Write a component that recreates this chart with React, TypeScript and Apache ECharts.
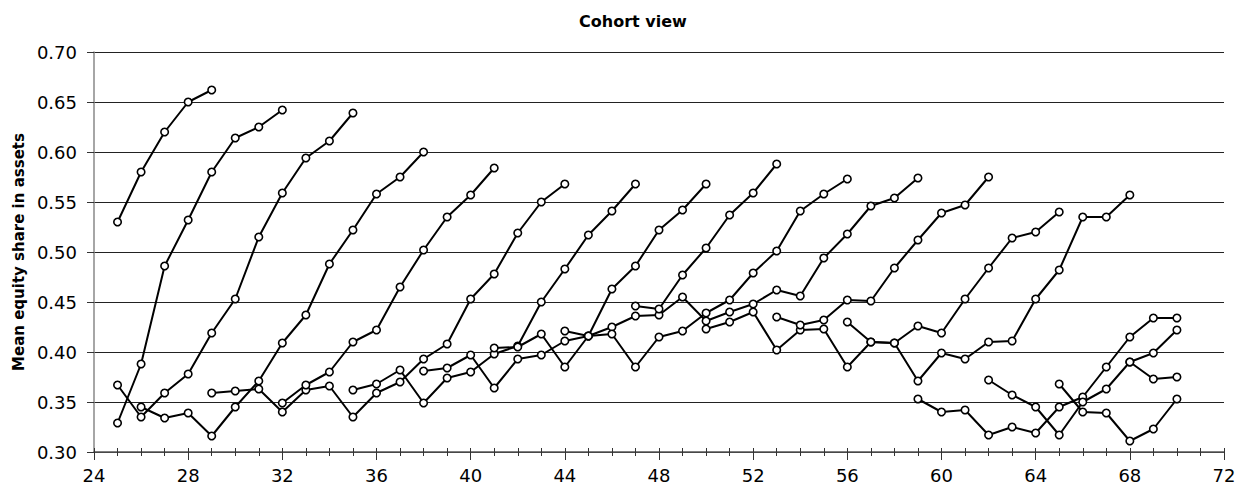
import React, { useEffect, useRef } from "react";
import * as echarts from "echarts";

// First age (x value) of each cohort line
const cohortStarts = [25, 25, 25, 26, 29, 32, 35, 38, 41, 44, 47, 50, 53, 56, 59, 62, 65, 68];

// Mean equity share by age, one array per cohort line (consecutive ages)
const cohort01 = [0.53, 0.58, 0.62, 0.65, 0.662];
const cohort02 = [0.329, 0.388, 0.486, 0.532, 0.58, 0.614, 0.625, 0.642];
const cohort03 = [0.367, 0.335, 0.359, 0.378, 0.419, 0.453, 0.515, 0.559, 0.594, 0.611, 0.639];
const cohort04 = [0.345, 0.334, 0.339, 0.316, 0.345, 0.371, 0.409, 0.437, 0.488, 0.522, 0.558, 0.575, 0.6];
const cohort05 = [0.359, 0.361, 0.363, 0.34, 0.362, 0.366, 0.335, 0.359, 0.37, 0.393, 0.408, 0.453, 0.478, 0.519, 0.55, 0.568];
const cohort06 = [0.349, 0.367, 0.38, 0.41, 0.422, 0.465, 0.502, 0.535, 0.557, 0.584];
const cohort07 = [0.362, 0.368, 0.382, 0.349, 0.374, 0.38, 0.398, 0.406, 0.45, 0.483, 0.517, 0.541, 0.568];
const cohort08 = [0.381, 0.384, 0.397, 0.364, 0.393, 0.397, 0.411, 0.416, 0.463, 0.486, 0.522, 0.542, 0.568];
const cohort09 = [0.404, 0.405, 0.418, 0.385, 0.416, 0.425, 0.436, 0.437, 0.455, 0.431, 0.44, 0.448, 0.462, 0.456, 0.494, 0.518, 0.546, 0.554, 0.574];
const cohort10 = [0.421, 0.416, 0.418, 0.385, 0.415, 0.421, 0.439, 0.452, 0.479, 0.501, 0.541, 0.558, 0.573];
const cohort11 = [0.446, 0.443, 0.477, 0.504, 0.537, 0.559, 0.588];
const cohort12 = [0.423, 0.43, 0.44, 0.402, 0.422, 0.423, 0.385, 0.41, 0.409, 0.426, 0.419, 0.453, 0.484, 0.514, 0.52, 0.54];
const cohort13 = [0.435, 0.427, 0.432, 0.452, 0.451, 0.484, 0.512, 0.539, 0.547, 0.575];
const cohort14 = [0.43, 0.41, 0.409, 0.371, 0.399, 0.393, 0.41, 0.411, 0.453, 0.482, 0.535, 0.535, 0.557];
const cohort15 = [0.353, 0.34, 0.342, 0.317, 0.325, 0.319, 0.345, 0.355, 0.385, 0.415, 0.434, 0.434];
const cohort16 = [0.372, 0.357, 0.345, 0.317, 0.35, 0.363, 0.39, 0.399, 0.422];
const cohort17 = [0.368, 0.34, 0.339, 0.311, 0.323, 0.353];
const cohort18 = [0.39, 0.373, 0.375];

const cohortValues = [
  cohort01, cohort02, cohort03, cohort04, cohort05, cohort06, cohort07, cohort08, cohort09,
  cohort10, cohort11, cohort12, cohort13, cohort14, cohort15, cohort16, cohort17, cohort18,
];

const chartTitle = "Cohort view";
const yAxisTitle = "Mean equity share in assets";

const FONT = "DejaVu Sans";

export default function App() {
  const ref = useRef<HTMLDivElement>(null);

  useEffect(() => {
    document.body.style.margin = "0";
    if (!ref.current) return;
    const chart = echarts.init(ref.current, null, { renderer: "svg" });

    const series = cohortValues.map((vals, i) => ({
      type: "line",
      name: "Cohort " + (i + 1),
      data: vals.map((v, j) => [cohortStarts[i] + j, v]),
      xAxisIndex: 0,
      yAxisIndex: 0,
      symbol: "circle",
      symbolSize: 7.5,
      showSymbol: true,
      showAllSymbol: true,
      lineStyle: { color: "#000", width: 2 },
      itemStyle: { color: "#fff", borderColor: "#000", borderWidth: 1.6 },
      emphasis: { disabled: true },
      z: 3,
    }));

    chart.setOption({
      animation: false,
      backgroundColor: "#fff",
      graphic: [
        {
          type: "text",
          x: 633,
          y: 21,
          style: {
            text: chartTitle,
            align: "center",
            verticalAlign: "middle",
            font: `bold 16px "${FONT}"`,
            fill: "#000",
          },
        },
      ],
      grid: { left: 94, right: 19, top: 52, bottom: 48, containLabel: false },
      xAxis: [
        {
          type: "value",
          min: 24,
          max: 72,
          interval: 4,
          position: "bottom",
          axisLine: { show: true, lineStyle: { color: "#555", width: 1.5 } },
          axisTick: { show: true, length: 8, lineStyle: { color: "#333", width: 1 } },
          minorTick: { show: true, splitNumber: 4, length: 4, lineStyle: { color: "#333", width: 1 } },
          axisLabel: { color: "#000", fontSize: 18, fontFamily: FONT, margin: 14 },
          splitLine: { show: false },
        },
        {
          type: "value",
          min: 24,
          max: 72,
          interval: 1,
          position: "bottom",
          axisLine: { show: false },
          axisTick: { show: true, inside: true, length: 4, lineStyle: { color: "#333", width: 1 } },
          axisLabel: { show: false },
          splitLine: { show: false },
        },
      ],
      yAxis: {
        type: "value",
        min: 0.3,
        max: 0.7,
        interval: 0.05,
        name: yAxisTitle,
        nameLocation: "middle",
        nameRotate: 90,
        nameGap: 66,
        nameTextStyle: { color: "#000", fontSize: 15, fontWeight: "bold", fontFamily: FONT },
        axisLine: { show: true, lineStyle: { color: "#888", width: 1.5 } },
        axisTick: { show: true, length: 7, lineStyle: { color: "#333", width: 1 } },
        axisLabel: {
          color: "#000",
          fontSize: 18,
          fontFamily: FONT,
          margin: 17,
          formatter: (v: number) => v.toFixed(2),
        },
        splitLine: { show: true, lineStyle: { color: "#222", width: 1 } },
      },
      tooltip: { show: false },
      series,
    });

    return () => {
      chart.dispose();
    };
  }, []);

  return <div ref={ref} style={{ width: 1243, height: 500, background: "#fff" }} />;
}
